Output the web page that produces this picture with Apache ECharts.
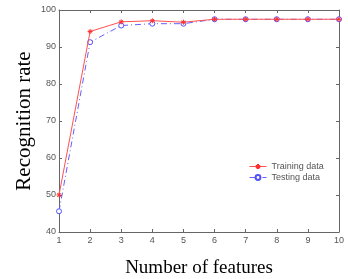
<!DOCTYPE html>
<html>
<head>
<meta charset="utf-8">
<script src="https://cdn.jsdelivr.net/npm/echarts@6/dist/echarts.min.js"></script>
<style>
  html, body { margin: 0; padding: 0; background: #fff; }
  #chart { width: 348px; height: 279px; }
</style>
</head>
<body>
<div id="chart"></div>
<script>
var features = [1, 2, 3, 4, 5, 6, 7, 8, 9, 10]
var trainingData = [50, 94.2, 96.8, 97.1, 96.7, 97.5, 97.5, 97.5, 97.5, 97.5]
var testingData = [45.6, 91.3, 95.8, 96.3, 96.3, 97.5, 97.5, 97.5, 97.5, 97.5]

var asterisk = 'path://M5,0L5,10M0,5L10,5M1.5,1.5L8.5,8.5M8.5,1.5L1.5,8.5'
var axisGray = '#666'
var labelStyle = { color: '#555', fontFamily: 'Arial, Liberation Sans', fontSize: 9 }

function pairs (ys) {
  return features.map((x, i) => [x, ys[i]])
}

function boxAxis (type, position) {
  var ax = {
    type: 'value', position: position,
    axisLine: { show: true, lineStyle: { color: axisGray } },
    axisTick: { inside: true, length: 3, lineStyle: { color: axisGray } },
    axisLabel: { show: false },
    splitLine: { show: false }
  }
  if (type === 'x') Object.assign(ax, { min: 1, max: 10, interval: 1 })
  else Object.assign(ax, { min: 40, max: 100, interval: 10 })
  return ax
}

var chart = echarts.init(document.getElementById('chart'))
chart.setOption({
  animation: false,
  grid: { left: 59, right: 9, top: 10, bottom: 47, containLabel: false, outerBoundsMode: 'none' },
  xAxis: [
    {
      type: 'value', min: 1, max: 10, interval: 1,
      axisLine: { lineStyle: { color: axisGray } },
      axisTick: { inside: true, length: 3, lineStyle: { color: axisGray } },
      axisLabel: Object.assign({ margin: 4 }, labelStyle),
      splitLine: { show: false },
      name: 'Number of features', nameLocation: 'middle', nameGap: 27,
      nameTextStyle: { fontFamily: 'Liberation Serif', fontSize: 19, color: '#000' }
    },
    boxAxis('x', 'top')
  ],
  yAxis: [
    {
      type: 'value', min: 40, max: 100, interval: 10,
      axisLine: { show: true, lineStyle: { color: axisGray } },
      axisTick: { inside: true, length: 3, lineStyle: { color: axisGray } },
      axisLabel: Object.assign({ margin: 3 }, labelStyle),
      splitLine: { show: false },
      name: 'Recognition rate', nameLocation: 'middle', nameGap: 24, nameMoveOverlap: false,
      nameTextStyle: { fontFamily: 'Liberation Serif', fontSize: 21, color: '#000' }
    },
    boxAxis('y', 'right')
  ],
  legend: {
    orient: 'vertical', left: 244, top: 157,
    itemWidth: 17, itemHeight: 6, itemGap: 2,
    textStyle: labelStyle,
    lineStyle: { width: 1 },
    data: ['Training data', 'Testing data']
  },
  series: [
    {
      name: 'Training data', type: 'line', data: pairs(trainingData),
      symbol: asterisk, symbolSize: 5,
      lineStyle: { color: '#ff5050', width: 1 },
      itemStyle: { color: '#fff', borderColor: '#ff3030', borderWidth: 1 },
      color: '#ff5050', z: 3
    },
    {
      name: 'Testing data', type: 'line', data: pairs(testingData),
      symbol: 'circle', symbolSize: 5,
      lineStyle: { color: '#6060ff', width: 1, type: [6, 3, 1, 3] },
      itemStyle: { color: '#fff', borderColor: '#5050ff', borderWidth: 1 },
      color: '#6060ff', z: 2
    }
  ]
})
</script>
</body>
</html>
